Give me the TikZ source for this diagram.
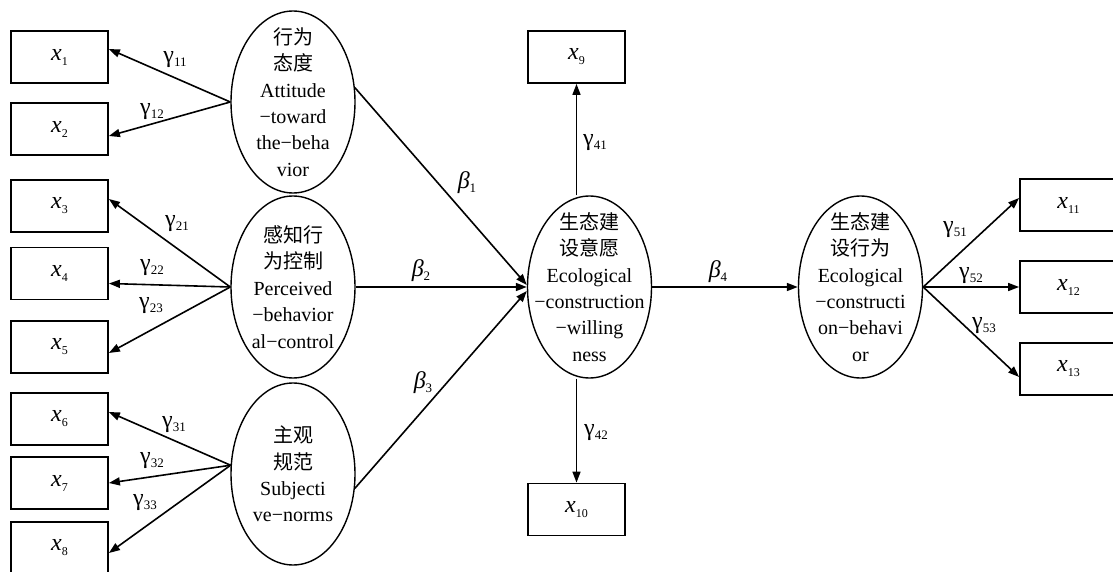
\documentclass[tikz,border=0pt]{standalone}
\usepackage{fontspec}
\setmainfont{Liberation Serif}
\newfontfamily\cjk{Noto Sans CJK SC}
\usepackage{tikz}
\usetikzlibrary{arrows.meta,
  shapes.geometric}

\newcommand{\zh}[1]{{\cjk #1}}
\newcommand{\obs}[1]{\textit{x}\raisebox{-2.5pt}{\fontsize{6}{6}\selectfont #1}}
\newcommand{\gm}[1]{γ\raisebox{-2pt}{\fontsize{6.5}{6.5}\selectfont #1}}
\newcommand{\bt}[1]{\textit{β}\raisebox{-2pt}{\fontsize{6.5}{6.5}\selectfont #1}}

\begin{document}
\begin{tikzpicture}[
  x=0.5pt, y=-0.5pt,
  indicator/.style={
    draw, line width=0.9pt,
    minimum width=48.5pt, minimum height=26pt,
    inner sep=0pt,
    font=\fontsize{12}{12}\selectfont
  },
  latent/.style={
    draw, ellipse, line width=0.7pt,
    minimum width=62pt, minimum height=91pt,
    inner sep=0pt
  },
  lvtext/.style={
    align=center, inner sep=0pt,
    font=\fontsize{10}{13.2}\selectfont
  },
  load/.style={-{Triangle[length=5.5pt,width=4pt]}, line width=0.8pt},
  coef/.style={inner sep=1pt, font=\fontsize{12}{12}\selectfont}]

\useasboundingbox (0,0) rectangle (1113,572);

% latent variables
\node[latent, label={[lvtext]center:\zh{行为}\\\zh{态度}\\Attitude\\−toward\\the−beha\\vior}]
  (e1) at (293,102) {};
\node[latent, label={[lvtext]center:\zh{感知行}\\\zh{为控制}\\Perceived\\−behavior\\al−control}]
  (e2) at (293,287) {};
\node[latent, label={[lvtext]center:\zh{主观}\\\zh{规范}\\Subjecti\\ve−norms}]
  (e3) at (293,474) {};
\node[latent, label={[lvtext]center:\zh{生态建}\\\zh{设意愿}\\Ecological\\−construction\\−willing\\ness}]
  (e4) at (589.5,287) {};
\node[latent, label={[lvtext]center:\zh{生态建}\\\zh{设行为}\\Ecological\\−constructi\\on−behavi\\or}]
  (e5) at (860.5,287) {};

% observed indicators
\node[indicator] (x1) at (59.5,57) {\obs{1}};
\node[indicator] (x2) at (59.5,129) {\obs{2}};
\node[indicator] (x3) at (59.5,206) {\obs{3}};
\node[indicator] (x4) at (59.5,273.5) {\obs{4}};
\node[indicator] (x5) at (59.5,347) {\obs{5}};
\node[indicator] (x6) at (59.5,419) {\obs{6}};
\node[indicator] (x7) at (59.5,483) {\obs{7}};
\node[indicator] (x8) at (59.5,548) {\obs{8}};
\node[indicator] (x9) at (576.5,57) {\obs{9}};
\node[indicator] (x10) at (576.5,509.5) {\obs{10}};
\node[indicator] (x11) at (1068.5,205) {\obs{11}};
\node[indicator] (x12) at (1068.5,287) {\obs{12}};
\node[indicator] (x13) at (1068.5,369) {\obs{13}};

% loadings
\draw[load] (e1.west) -- ([yshift=4pt]x1.east);
\draw[load] (e1.west) -- ([yshift=-3.5pt]x2.east);
\draw[load] (e2.west) -- ([yshift=3.5pt]x3.east);
\draw[load] (e2.west) -- ([yshift=-5pt]x4.east);
\draw[load] (e2.west) -- ([yshift=-3pt]x5.east);
\draw[load] (e3.172) -- ([yshift=3.5pt]x6.east);
\draw[load] (e3.172) -- (x7.east);
\draw[load] (e3.172) -- ([yshift=-2.5pt]x8.east);
\draw[load] (e4.north -| x9.south) -- (x9.south);
\draw[load] (e4.south -| x10.north) -- (x10.north);
\draw[load] (e5.east) -- ([yshift=3.5pt]x11.west);
\draw[load] (e5.east) -- (x12.west);
\draw[load] (e5.east) -- ([yshift=-4pt]x13.west);

% structural paths
\draw[load] (e1.13) -- ([yshift=1pt]e4.west);
\draw[load] (e2.east) -- (e4.west);
\draw[load] (e3.-13) -- ([yshift=-2pt]e4.west);
\draw[load] (e4.east) -- (e5.west);

% coefficients
\node[coef] (g11) at (175,60) {\gm{11}};
\node[coef] (g12) at (152,112) {\gm{12}};
\node[coef] (g21) at (177,224) {\gm{21}};
\node[coef] (g22) at (152,268) {\gm{22}};
\node[coef] (g23) at (151,306) {\gm{23}};
\node[coef] (g31) at (174,425) {\gm{31}};
\node[coef] (g32) at (152,461) {\gm{32}};
\node[coef] (g33) at (145,503) {\gm{33}};
\node[coef] (g41) at (595,143) {\gm{41}};
\node[coef] (g42) at (596,433) {\gm{42}};
\node[coef] (g51) at (955,230) {\gm{51}};
\node[coef] (g52) at (971,276) {\gm{52}};
\node[coef] (g53) at (984,326) {\gm{53}};
\node[coef] (b1) at (467,183) {\bt{1}};
\node[coef] (b2) at (421,271) {\bt{2}};
\node[coef] (b3) at (423,383) {\bt{3}};
\node[coef] (b4) at (718,272) {\bt{4}};

\end{tikzpicture}
\end{document}
